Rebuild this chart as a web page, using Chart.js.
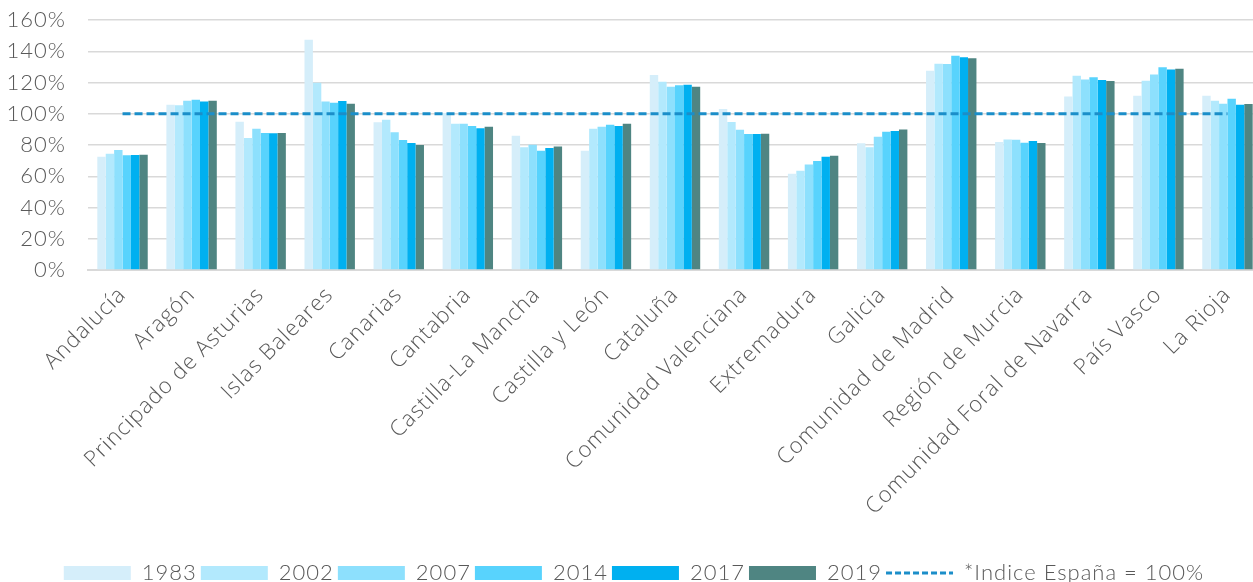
<!DOCTYPE html>
<html lang="es">
<head>
  <meta charset="UTF-8" />
  <title>Índice por comunidad autónoma</title>
  <script src="https://cdn.jsdelivr.net/npm/chart.js"></script>
  <style>
    html, body { margin: 0; padding: 0; background: #fff; overflow: hidden; }
    /* the plot runs a few pixels past the right edge of the window */
    .chart-container { position: relative; width: 1262px; height: 582px; }
  </style>
</head>
<body>
  <div class="chart-container">
    <canvas id="regionChart"></canvas>
  </div>

  <script>
    const regions = [
      'Andalucía', 'Aragón', 'Principado de Asturias', 'Islas Baleares', 'Canarias',
      'Cantabria', 'Castilla-La Mancha', 'Castilla y León', 'Cataluña',
      'Comunidad Valenciana', 'Extremadura', 'Galicia', 'Comunidad de Madrid',
      'Región de Murcia', 'Comunidad Foral de Navarra', 'País Vasco', 'La Rioja'
    ];

    const years = ['1983', '2002', '2007', '2014', '2017', '2019'];
    const yearColors = ['#d5eefa', '#b2e9fd', '#8de0fd', '#58d3fd', '#00b0f0', '#4f8582'];

    // % sobre la media nacional, una fila por año
    const v1983 = [72.5, 105.8, 94.9, 147.4, 94.5, 100.5, 86.0, 76.4, 124.8, 103.0, 61.6, 81.1, 127.6, 81.9, 111.1, 111.6, 111.6];
    const v2002 = [74.4, 105.4, 84.5, 119.9, 96.2, 93.6, 78.5, 90.4, 120.5, 94.7, 63.6, 78.5, 132.0, 83.6, 124.4, 121.2, 108.4];
    const v2007 = [76.8, 108.4, 90.4, 107.9, 88.1, 93.6, 80.2, 91.7, 117.3, 89.8, 67.6, 85.3, 131.8, 83.4, 122.0, 125.2, 106.4];
    const v2014 = [73.4, 109.0, 87.7, 107.1, 83.2, 92.2, 76.4, 93.0, 118.2, 87.0, 69.8, 88.5, 137.2, 81.5, 123.3, 129.7, 109.6];
    const v2017 = [73.6, 107.9, 87.5, 108.2, 81.3, 90.7, 78.1, 92.2, 118.6, 87.0, 72.5, 88.9, 136.1, 82.6, 121.6, 128.3, 105.8];
    const v2019 = [73.8, 108.4, 87.7, 106.4, 80.0, 91.7, 79.1, 93.6, 117.3, 87.2, 73.2, 90.0, 135.5, 81.3, 120.9, 128.8, 106.2];

    const spainIndex = regions.map(() => 100);
    const yTicks = [0, 20, 40, 60, 80, 100, 120, 140, 160];

    const seriesByYear = [v1983, v2002, v2007, v2014, v2017, v2019];
    const textColor = '#595959';
    const fontFamily = 'Lato, "Open Sans", sans-serif';
    const labelFamily = '"Open Sans", Lato, sans-serif';

    const barSets = years.map((y, i) => ({
      type: 'bar',
      label: y,
      data: seriesByYear[i],
      backgroundColor: yearColors[i],
      borderWidth: 0,
      categoryPercentage: 0.73,
      barPercentage: 1.0,
      order: 1
    }));

    const indexLine = {
      type: 'line',
      label: '*Indice España = 100%',
      data: spainIndex,
      borderColor: '#1b8ec9',
      backgroundColor: '#1b8ec9',
      borderWidth: 3,
      borderDash: [8, 4],
      pointRadius: 0,
      fill: false,
      order: 0
    };

    // the light face used here is a bit narrower, so open up the tracking a touch
    const wideText = {
      id: 'wideText',
      beforeUpdate(chart) { chart.ctx.letterSpacing = '1px'; },
      beforeDraw(chart) { chart.ctx.letterSpacing = '1px'; }
    };

    const ctx = document.getElementById('regionChart').getContext('2d');

    new Chart(ctx, {
      data: {
        labels: regions,
        datasets: [...barSets, indexLine]
      },
      plugins: [wideText],
      options: {
        responsive: true,
        maintainAspectRatio: false,
        animation: false,
        layout: { padding: { top: 20, right: 0, left: 6, bottom: -12 } },
        plugins: {
          tooltip: { enabled: false },
          legend: {
            position: 'bottom',
            labels: {
              usePointStyle: true,
              pointStyleWidth: 67,
              boxHeight: 14,
              padding: 4,
              color: textColor,
              font: { family: fontFamily, size: 22, weight: '300' },
              generateLabels(chart) {
                const items = Chart.defaults.plugins.legend.labels.generateLabels(chart);
                items.forEach(it => {
                  const ds = chart.data.datasets[it.datasetIndex];
                  if (ds.type === 'line') {
                    it.pointStyle = 'line';
                    it.strokeStyle = ds.borderColor;
                    it.lineWidth = 3;
                    it.lineDash = [6, 3];
                  } else {
                    it.pointStyle = 'rect';
                    it.lineWidth = 0;
                  }
                });
                return items.sort((a, b) => a.datasetIndex - b.datasetIndex);
              }
            }
          }
        },
        scales: {
          x: {
            offset: true,
            grid: { display: false },
            border: { display: true, color: '#d9d9d9', width: 2 },
            afterFit(axis) {
              axis.paddingLeft = 0;
              axis.paddingRight = 0;
              axis.height = 288;
            },
            ticks: {
              autoSkip: false,
              minRotation: 45,
              maxRotation: 45,
              padding: 4,
              color: textColor,
              font: { family: labelFamily, size: 22, weight: '300' }
            }
          },
          y: {
            min: 0,
            max: 160,
            afterBuildTicks(axis) {
              axis.ticks = yTicks.map(v => ({ value: v }));
            },
            afterFit(axis) {
              axis.width = 82;
              axis.paddingTop = 0;
              axis.paddingBottom = 0;
            },
            grid: { color: '#d9d9d9', lineWidth: 1.5, drawTicks: false },
            border: { display: false },
            ticks: {
              padding: 22,
              color: textColor,
              font: { family: fontFamily, size: 22, weight: '300' },
              callback: v => v + '%'
            }
          }
        }
      }
    });
  </script>
</body>
</html>
